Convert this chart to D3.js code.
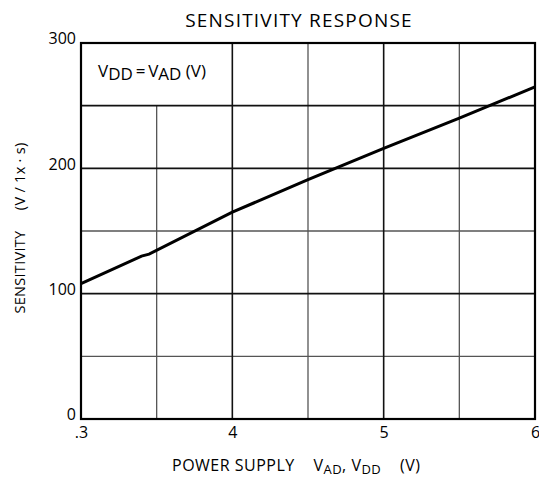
<!DOCTYPE html>
<html>
<head>
<meta charset="utf-8">
<script src="https://cdn.jsdelivr.net/npm/d3@7"></script>
<style>
  body { margin: 0; background: #fff; }
  text { font-family: "Open Sans", "DejaVu Sans", sans-serif; fill: #000; }
</style>
</head>
<body>
<div id="chart"></div>
<script>
// curve
var supply = [3.0, 3.4, 3.45, 4.0, 4.5, 5.0, 5.5, 6.0];
var sensitivity = [108, 130, 131.5, 165, 191, 216, 240, 265];

var xTicks = [3, 4, 5, 6];
var xTickLabels = [".3", "4", "5", "6"];
var xMinor = [3.5, 4.5, 5.5];
var yTicks = [0, 100, 200, 300];
var yMinor = [50, 150, 250];

var svgWidth = 539;
var svgHeight = 486;

var margin = { top: 43, right: 4, bottom: 67, left: 81 };
var width = svgWidth - margin.left - margin.right;
var height = svgHeight - margin.top - margin.bottom;

var svg = d3.select("#chart")
  .append("svg")
  .attr("width", svgWidth)
  .attr("height", svgHeight);

var chartGroup = svg.append("g")
  .attr("transform", `translate(${margin.left}, ${margin.top})`);

var xScale = d3.scaleLinear().domain([3, 6]).range([0, width]);
var yScale = d3.scaleLinear().domain([0, 300]).range([height, 0]);

// minor grid (grey)
chartGroup.selectAll(".vminor")
  .data(xMinor)
  .enter()
  .append("line")
  .attr("x1", d => xScale(d))
  .attr("x2", d => xScale(d))
  // the 3.5 line stops under the label box
  .attr("y1", d => d === 3.5 ? yScale(250) : 0)
  .attr("y2", height)
  .attr("stroke", "#555")
  .attr("stroke-width", 1.3);

chartGroup.selectAll(".hminor")
  .data(yMinor)
  .enter()
  .append("line")
  .attr("x1", 0)
  .attr("x2", width)
  .attr("y1", d => yScale(d))
  .attr("y2", d => yScale(d))
  .attr("stroke", d => d === 250 ? "#111" : "#555")
  .attr("stroke-width", d => d === 250 ? 1.6 : 1.3);

// major grid
chartGroup.selectAll(".vmajor")
  .data(xTicks.slice(1, -1))
  .enter()
  .append("line")
  .attr("x1", d => xScale(d))
  .attr("x2", d => xScale(d))
  .attr("y1", 0)
  .attr("y2", height)
  .attr("stroke", "#111")
  .attr("stroke-width", 1.6);

chartGroup.selectAll(".hmajor")
  .data(yTicks.slice(1, -1))
  .enter()
  .append("line")
  .attr("x1", 0)
  .attr("x2", width)
  .attr("y1", d => yScale(d))
  .attr("y2", d => yScale(d))
  .attr("stroke", "#111")
  .attr("stroke-width", 1.6);

// frame
chartGroup.append("rect")
  .attr("x", 0)
  .attr("y", 0)
  .attr("width", width)
  .attr("height", height)
  .attr("fill", "none")
  .attr("stroke", "#000")
  .attr("stroke-width", 2.2);

// axes, ticks only as labels
var bottomAxis = d3.axisBottom(xScale)
  .tickValues(xTicks)
  .tickSize(0)
  .tickPadding(8)
  .tickFormat((d, i) => xTickLabels[i]);
var leftAxis = d3.axisLeft(yScale)
  .tickValues(yTicks)
  .tickSize(0)
  .tickPadding(5);

var xAxisG = chartGroup.append("g")
  .attr("transform", `translate(0, ${height})`)
  .call(bottomAxis);
var yAxisG = chartGroup.append("g").call(leftAxis);

[xAxisG, yAxisG].forEach(function(g) {
  g.select(".domain").remove();
  g.selectAll("text")
    .attr("font-family", "'Open Sans', sans-serif")
    .attr("font-size", "16px")
    .attr("fill", "#000");
});
yAxisG.selectAll("text").attr("dy", "0.05em");

// curve
var line = d3.line()
  .x((d, i) => xScale(supply[i]))
  .y(d => yScale(d));

chartGroup.append("path")
  .datum(sensitivity)
  .attr("d", line)
  .attr("fill", "none")
  .attr("stroke", "#000")
  .attr("stroke-width", 3);

// label in the box
var note = chartGroup.append("text")
  .attr("x", xScale(3) + 17)
  .attr("y", yScale(273))
  .attr("font-size", "17px")
  .attr("xml:space", "preserve");
note.append("tspan").text("V");
note.append("tspan").attr("dy", 3).text("DD");
note.append("tspan").attr("dy", -3).text("\u2009=\u2009V");
note.append("tspan").attr("dy", 3).text("AD");
note.append("tspan").attr("dy", -3).text(" (V)");

// titles
svg.append("text")
  .attr("x", 299)
  .attr("y", 27)
  .attr("text-anchor", "middle")
  .attr("font-size", "19px")
  .attr("letter-spacing", "1.2px")
  .text("SENSITIVITY  RESPONSE");

svg.append("text")
  .attr("transform", "translate(25, 228) rotate(-90)")
  .attr("text-anchor", "middle")
  .attr("font-size", "14.5px")
  .attr("letter-spacing", "0.3px")
  .attr("xml:space", "preserve")
  .text("SENSITIVITY     (V / 1x · s)");

var xTitle = svg.append("text")
  .attr("x", 172)
  .attr("y", 471)
  .attr("font-size", "16px")
  .attr("letter-spacing", "0.5px")
  .attr("xml:space", "preserve");
xTitle.append("tspan").text("POWER SUPPLY    V");
xTitle.append("tspan").attr("dy", 3).attr("font-size", "13px").text("AD");
xTitle.append("tspan").attr("dy", -3).text(", V");
xTitle.append("tspan").attr("dy", 3).attr("font-size", "13px").text("DD");
xTitle.append("tspan").attr("dy", -3).text("    (V)");
</script>
</body>
</html>
